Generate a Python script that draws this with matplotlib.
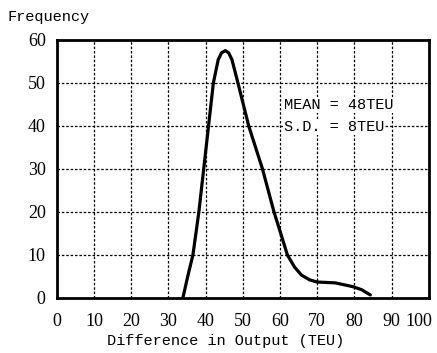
import matplotlib
matplotlib.use("Agg")
import matplotlib.pyplot as plt
from matplotlib.transforms import ScaledTranslation

# values
diff_teu = [33.9, 35.2, 36.6, 38.2, 39.5, 40.8, 42.1, 43.4, 44.3, 45.3, 46.2, 47.1,
            48.7, 51.6, 55.3, 58.4, 60.5, 62.0, 63.9, 65.8, 68.0, 70.0, 74.9,
            79.7, 82.0, 84.3]
frequency = [0, 5, 10, 20, 30, 40, 50, 55.4, 57.0, 57.5, 57.0, 55.4,
             50, 40, 30, 20, 14.2, 10, 7.2, 5.3, 4.2, 3.7, 3.5,
             2.6, 1.9, 0.7]

x_ticks = [0, 10, 20, 30, 40, 50, 60, 70, 80, 90, 100]
y_ticks = [0, 10, 20, 30, 40, 50, 60]
stats = ["MEAN = 48TEU", "S.D. = 8TEU"]

mono = "Liberation Mono"
serif = "Liberation Serif"

fig = plt.figure(figsize=(4.37, 3.53), dpi=100)
ax = fig.add_axes([0.130, 0.156, 0.851, 0.731])

ax.plot(diff_teu, frequency, color="black", lw=2.3,
        solid_capstyle="round", solid_joinstyle="round")

ax.set_xlim(0, 100)
ax.set_ylim(0, 60)
ax.set_xticks(x_ticks)
ax.set_yticks(y_ticks)
ax.set_xticklabels([str(t) for t in x_ticks], fontfamily=serif, fontsize=13)
ax.set_yticklabels([str(t) for t in y_ticks], fontfamily=serif, fontsize=13)
ax.tick_params(length=0)
ax.tick_params(axis="x", pad=11)
ax.tick_params(axis="y", pad=8)
# the "100" label sits pulled in from the right edge
lab = ax.get_xticklabels()[-1]
lab.set_transform(lab.get_transform() + ScaledTranslation(-0.1, 0, fig.dpi_scale_trans))

ax.grid(True, color="black", linestyle=(0, (2, 1.5)), lw=0.9)
for s in ax.spines.values():
    s.set_linewidth(2)

box = dict(facecolor="white", edgecolor="none", pad=0.5)
ax.text(61.0, 44.9, stats[0], fontfamily=mono, fontsize=11, va="center", bbox=box)
ax.text(61.0, 39.8, stats[1], fontfamily=mono, fontsize=11, va="center", bbox=box)

fig.text(0.517, 0.034, "Difference in Output (TEU)", fontfamily=mono,
         fontsize=11, ha="center", va="center")
fig.text(0.018, 0.951, "Frequency", fontfamily=mono, fontsize=11, va="center")

fig.savefig("out.png", dpi=100)
